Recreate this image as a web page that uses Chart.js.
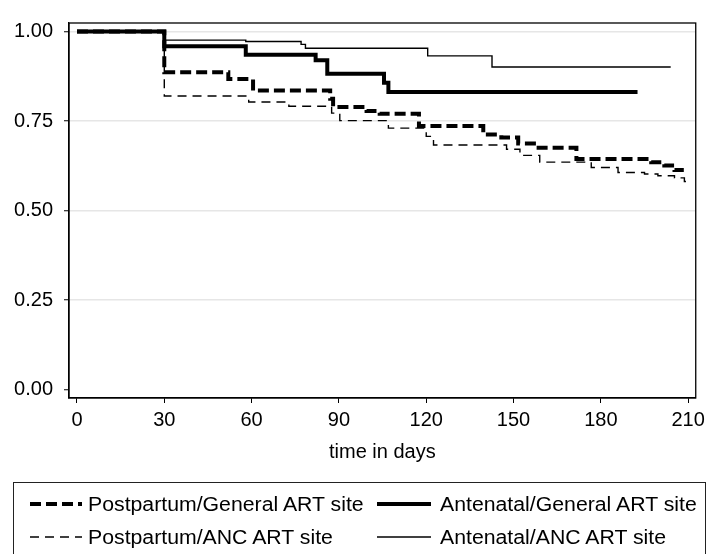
<!DOCTYPE html>
<html>
<head>
<meta charset="utf-8">
<script src="https://cdn.jsdelivr.net/npm/chart.js@4/dist/chart.umd.min.js"></script>
<style>
html,body{margin:0;padding:0;background:#fff;}
#wrap{position:relative;width:710px;height:554px;overflow:hidden;background:#fff;}
#c{position:absolute;left:0;top:0;}
#legendBox{position:absolute;left:13px;top:482px;width:693px;height:90px;border:1.3px solid #222;box-sizing:border-box;}
.lg{position:absolute;height:24px;line-height:24px;white-space:nowrap;font-family:"Liberation Sans",Arial,Helvetica,sans-serif;font-size:19.5px;color:#000;transform:scaleX(1.09);transform-origin:left center;}
.sw{position:absolute;}
</style>
</head>
<body>
<div id="wrap">
  <canvas id="c" width="710" height="554"></canvas>
  <div id="legendBox"></div>
  <div id="legendItems"></div>
</div>
<script>
// ---------------- data ----------------
const xTicks = [0, 30, 60, 90, 120, 150, 180, 210];
const yTicks = [0, 0.25, 0.5, 0.75, 1];
const yTickLabels = ['0.00', '0.25', '0.50', '0.75', '1.00'];
const xTitle = 'time in days';

const seriesLabels = [
  'Postpartum/General ART site',
  'Antenatal/General ART site',
  'Postpartum/ANC ART site',
  'Antenatal/ANC ART site'
];

// Postpartum / General ART site (thick dashed)
const ppGenTime = [0, 30, 52, 60.5, 87, 88, 99.5, 104, 117.5, 139.6, 145.8, 151.6, 157.9, 171.6, 197.3, 201.8, 205.3, 208.5];
const ppGenSurv = [1, 0.886, 0.867, 0.835, 0.812, 0.789, 0.778, 0.770, 0.736, 0.712, 0.704, 0.687, 0.675, 0.644, 0.635, 0.626, 0.613, 0.613];

// Antenatal / General ART site (thick solid)
const anGenTime = [0, 30, 58, 82, 86, 105.5, 107, 192.6];
const anGenSurv = [1, 0.959, 0.935, 0.920, 0.882, 0.857, 0.831, 0.831];

// Postpartum / ANC ART site (thin dashed)
const ppAncTime = [0, 30, 59, 72.8, 87.5, 90.3, 107, 120, 122.5, 147.6, 152.2, 159, 176.7, 185.9, 195, 199.6, 205.3, 208.7, 210.5];
const ppAncSurv = [1, 0.820, 0.803, 0.791, 0.772, 0.751, 0.730, 0.707, 0.683, 0.671, 0.654, 0.635, 0.620, 0.606, 0.602, 0.597, 0.591, 0.581, 0.581];

// Antenatal / ANC ART site (thin solid)
const anAncTime = [0, 30, 58, 77, 78.5, 120.5, 142.6, 204];
const anAncSurv = [1, 0.976, 0.972, 0.964, 0.953, 0.932, 0.901, 0.901];

// ---------------- styles ----------------
const styles = [
  {width: 4,   dash: [11, 5]},
  {width: 4,   dash: []},
  {width: 1.4, dash: [9, 6]},
  {width: 1.4, dash: []}
];

const seriesTimes = [ppGenTime, anGenTime, ppAncTime, anAncTime];
const seriesSurv  = [ppGenSurv, anGenSurv, ppAncSurv, anAncSurv];

const FONT = {family: '"Liberation Sans", Arial, Helvetica, sans-serif', size: 20};

const datasets = seriesLabels.map((lab, i) => ({
  label: lab,
  data: seriesTimes[i].map((t, k) => ({x: t, y: seriesSurv[i][k]})),
  stepped: true,
  borderColor: '#000',
  backgroundColor: '#000',
  borderWidth: styles[i].width,
  borderDash: styles[i].dash,
  borderCapStyle: 'butt',
  borderJoinStyle: 'miter',
  pointRadius: 0,
  fill: false
}));

const framePlugin = {
  id: 'frame',
  beforeDatasetsDraw(c) {
    const a = c.chartArea, ctx = c.ctx;
    ctx.save();
    ctx.strokeStyle = '#000';
    ctx.lineWidth = 1.3;
    ctx.strokeRect(a.left, a.top, a.right - a.left, a.bottom - a.top);
    ctx.restore();
  }
};

new Chart(document.getElementById('c'), {
  type: 'line',
  data: {datasets},
  plugins: [framePlugin],
  options: {
    responsive: false,
    animation: false,
    events: [],
    layout: {padding: {left: 0, top: 14, right: 12, bottom: 90}},
    plugins: {legend: {display: false}, tooltip: {enabled: false}},
    scales: {
      x: {
        type: 'linear',
        min: -2.74,
        max: 212.6,
        afterBuildTicks: s => { s.ticks = xTicks.map(v => ({value: v})); },
        afterFit: s => { s.height = 66; },
        ticks: {font: FONT, color: '#000', padding: 5, maxRotation: 0, autoSkip: false},
        grid: {drawOnChartArea: false, drawTicks: true, tickLength: 5, color: '#000', lineWidth: 1},
        border: {display: true, color: '#000', width: 1.3},
        title: {display: true, text: xTitle, font: FONT, color: '#000', padding: {top: 0, bottom: 0}}
      },
      y: {
        type: 'linear',
        min: -0.0237,
        max: 1.0237,
        afterBuildTicks: s => { s.ticks = yTicks.map(v => ({value: v})); },
        afterFit: s => { s.width = 69; },
        ticks: {
          font: FONT, color: '#000', padding: 11, autoSkip: false,
          callback: (v) => { const k = yTicks.indexOf(v); return k >= 0 ? yTickLabels[k] : ''; }
        },
        grid: {
          drawOnChartArea: true, drawTicks: true, tickLength: 5,
          color: c => (c.tick && c.tick.value === 0) ? 'rgba(0,0,0,0)' : '#e6e6e6',
          lineWidth: 1.5,
          tickColor: '#000',
          tickWidth: 1
        },
        border: {display: true, color: '#000', width: 1.3}
      }
    }
  }
});

// ---------------- legend (HTML) ----------------
const legendPos = [
  {sx: 30,  sw: 52, tx: 88,  cy: 504},
  {sx: 377, sw: 54, tx: 440, cy: 504},
  {sx: 30,  sw: 52, tx: 88,  cy: 537},
  {sx: 377, sw: 54, tx: 440, cy: 537}
];
const li = document.getElementById('legendItems');
seriesLabels.forEach((lab, i) => {
  const p = legendPos[i], st = styles[i];
  const ns = 'http://www.w3.org/2000/svg';
  const svg = document.createElementNS(ns, 'svg');
  svg.setAttribute('width', p.sw);
  svg.setAttribute('height', 10);
  svg.setAttribute('class', 'sw');
  svg.style.left = p.sx + 'px';
  svg.style.top = (p.cy - 5) + 'px';
  const ln = document.createElementNS(ns, 'line');
  ln.setAttribute('x1', 0); ln.setAttribute('x2', p.sw);
  ln.setAttribute('y1', 5); ln.setAttribute('y2', 5);
  ln.setAttribute('stroke', '#000');
  ln.setAttribute('stroke-width', st.width);
  if (st.dash.length) ln.setAttribute('stroke-dasharray', st.dash.join(','));
  svg.appendChild(ln);
  li.appendChild(svg);
  const d = document.createElement('div');
  d.className = 'lg';
  d.style.left = p.tx + 'px';
  d.style.top = (p.cy - 12) + 'px';
  d.textContent = lab;
  li.appendChild(d);
});
</script>
</body>
</html>
